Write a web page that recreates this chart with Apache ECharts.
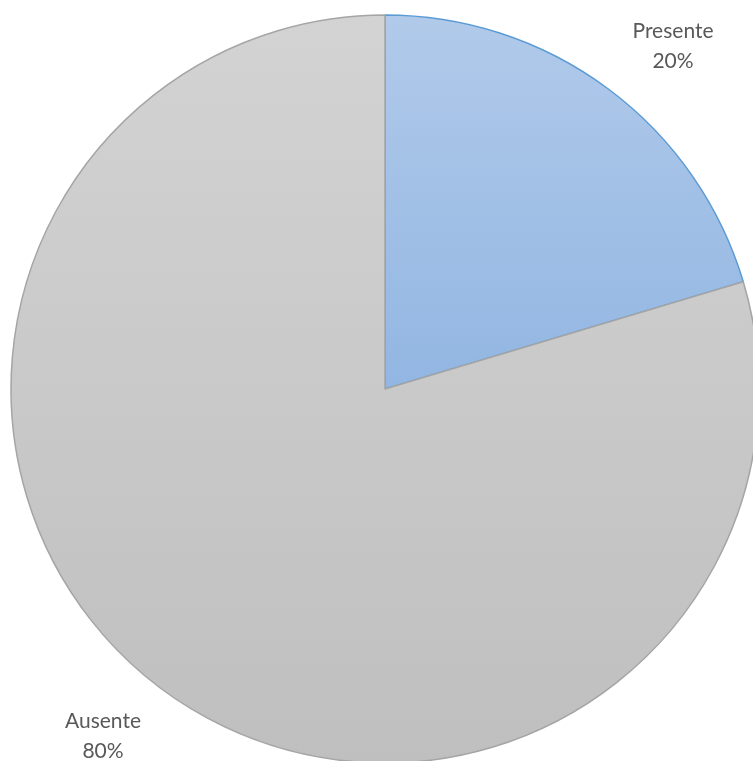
<!DOCTYPE html>
<html>
<head>
<meta charset="utf-8">
<script src="https://cdn.jsdelivr.net/npm/echarts@6/dist/echarts.min.js"></script>
<style>
html,body{margin:0;padding:0;background:#fff;}
#chart{width:753px;height:761px;}
</style>
</head>
<body>
<div id="chart"></div>
<script>
const categories = ['Presente', 'Ausente'];
const values = [11, 43];
const labelPos = [[673, 46], [103, 736]];

const styles = [
  {
    color: new echarts.graphic.LinearGradient(0, 0, 0, 1, [
      {offset: 0, color: '#b1caea'},
      {offset: 1, color: '#92b6e2'}
    ]),
    borderColor: '#5b9bd5', borderWidth: 1.5
  },
  {
    color: new echarts.graphic.LinearGradient(0, 0, 0, 1, [
      {offset: 0, color: '#d3d3d3'},
      {offset: 1, color: '#bfbfbf'}
    ]),
    borderColor: '#a5a5a5', borderWidth: 1.5
  }
];

const chart = echarts.init(document.getElementById('chart'));
chart.setOption({
  animation: false,
  backgroundColor: '#ffffff',
  series: [{
    type: 'pie',
    center: [385, 389],
    radius: 374,
    startAngle: 90,
    clockwise: true,
    data: categories.map((c, i) => ({name: c, value: values[i], itemStyle: styles[i]})),
    label: {
      show: true,
      position: 'outside',
      formatter: p => p.name + '\n' + Math.round(p.percent) + '%',
      color: '#595959',
      fontFamily: 'Lato',
      fontSize: 21,
      lineHeight: 30,
      align: 'center'
    },
    labelLine: {show: false},
    labelLayout: p => ({
      x: labelPos[p.dataIndex][0],
      y: labelPos[p.dataIndex][1],
      align: 'center',
      verticalAlign: 'middle'
    }),
    emphasis: {disabled: true}
  }]
});
</script>
</body>
</html>
